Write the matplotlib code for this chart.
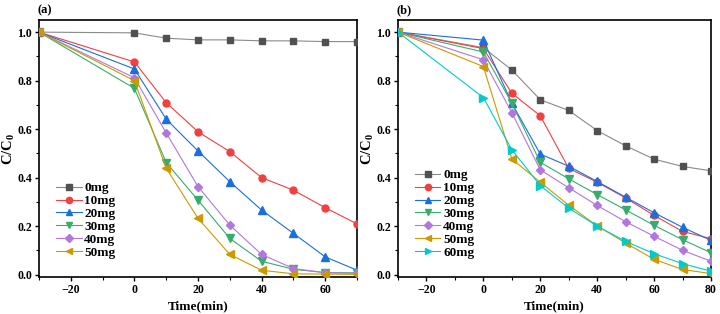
import matplotlib
matplotlib.use("Agg")
import matplotlib.pyplot as plt
from matplotlib.ticker import MultipleLocator

plt.rcParams['font.family'] = ['Liberation Serif', 'DejaVu Serif']
plt.rcParams['font.weight'] = 'bold'
plt.rcParams['mathtext.fontset'] = 'custom'
plt.rcParams['mathtext.rm'] = 'Liberation Serif:bold'
plt.rcParams['mathtext.it'] = 'Liberation Serif:bold'

# panel (a)
time_a = [-30, 0, 10, 20, 30, 40, 50, 60, 70]
labels_a = ["0mg", "10mg", "20mg", "30mg", "40mg", "50mg"]
a_0mg = [1.0, 0.997, 0.975, 0.968, 0.968, 0.964, 0.964, 0.961, 0.961]
a_10mg = [1.0, 0.877, 0.709, 0.589, 0.507, 0.400, 0.348, 0.276, 0.209]
a_20mg = [1.0, 0.848, 0.641, 0.510, 0.383, 0.266, 0.170, 0.073, 0.018]
a_30mg = [1.0, 0.768, 0.462, 0.307, 0.149, 0.055, 0.022, 0.008, 0.007]
a_40mg = [1.0, 0.812, 0.584, 0.363, 0.204, 0.083, 0.025, 0.008, 0.005]
a_50mg = [1.0, 0.800, 0.439, 0.232, 0.083, 0.018, 0.003, 0.002, 0.001]

# panel (b)
time_b = [-30, 0, 10, 20, 30, 40, 50, 60, 70, 80]
labels_b = ["0mg", "10mg", "20mg", "30mg", "40mg", "50mg", "60mg"]
b_0mg = [1.0, 0.936, 0.844, 0.721, 0.677, 0.594, 0.531, 0.476, 0.446, 0.428]
b_10mg = [1.0, 0.932, 0.748, 0.655, 0.438, 0.381, 0.316, 0.244, 0.178, 0.148]
b_20mg = [1.0, 0.967, 0.707, 0.497, 0.447, 0.384, 0.319, 0.255, 0.195, 0.141]
b_30mg = [1.0, 0.918, 0.707, 0.463, 0.395, 0.330, 0.267, 0.203, 0.144, 0.090]
b_40mg = [1.0, 0.886, 0.668, 0.432, 0.358, 0.285, 0.218, 0.158, 0.100, 0.055]
b_50mg = [1.0, 0.858, 0.477, 0.381, 0.286, 0.201, 0.130, 0.063, 0.021, 0.004]
b_60mg = [1.0, 0.730, 0.515, 0.367, 0.274, 0.200, 0.137, 0.086, 0.045, 0.014]

colors = ['#515151', '#F14040', '#1A6FDF', '#37AD6B', '#B177DE', '#CC9900', '#00CBCC']
line_colors = ['#8a8a8a', '#F14040', '#1A6FDF', '#37AD6B', '#B177DE', '#CC9900', '#00CBCC']
markers = ['s', 'o', '^', 'v', 'D', '<', '>']
msizes = [4.5, 5, 5.5, 5.5, 4.5, 5.5, 5.5]

fig = plt.figure(figsize=(7.2, 3.14), dpi=100)
ax1 = fig.add_axes([39 / 720, 37 / 314, 318 / 720, 257 / 314])
ax2 = fig.add_axes([398 / 720, 37 / 314, 313 / 720, 257 / 314])


def draw(ax, t, series, labels, xmax, tag):
    for i, (y, lab) in enumerate(zip(series, labels)):
        ax.plot(t, y, color=line_colors[i], lw=0.8, marker=markers[i],
                markersize=msizes[i], markerfacecolor=colors[i],
                markeredgecolor=colors[i], label=lab, zorder=3)
    ax.set_xlim(-30, xmax)
    ax.set_ylim(-0.01, 1.05)
    ax.xaxis.set_major_locator(MultipleLocator(20))
    ax.xaxis.set_minor_locator(MultipleLocator(10))
    ax.yaxis.set_major_locator(MultipleLocator(0.2))
    ax.yaxis.set_minor_locator(MultipleLocator(0.1))
    ax.yaxis.set_major_formatter(plt.FormatStrFormatter('%.1f'))
    ax.tick_params(axis='both', which='major', labelsize=8.5, length=3, width=1, direction='out', pad=2)
    ax.tick_params(axis='both', which='minor', length=2, width=0.8, direction='out')
    for lab in ax.get_xticklabels() + ax.get_yticklabels():
        lab.set_fontweight('bold')
    for sp in ax.spines.values():
        sp.set_linewidth(1.2)
    ax.set_xlabel('Time(min)', fontsize=9.5, fontweight='bold', labelpad=3)
    ax.set_ylabel('C/C$_0$', fontsize=10.5, fontweight='bold')
    ax.yaxis.set_label_coords(-22 / (ax.get_position().width * 720), 0.5)
    ax.text(-0.005, 1.015, tag, transform=ax.transAxes, fontsize=9, fontweight='bold',
            ha='left', va='bottom')
    ax.legend(loc='lower left', bbox_to_anchor=(0.03, 0.04), frameon=False,
              prop={'size': 9.5, 'weight': 'bold'}, handlelength=1.9,
              handletextpad=0.2, labelspacing=0.05, borderaxespad=0.2,
              markerscale=0.9)


draw(ax1, time_a, [a_0mg, a_10mg, a_20mg, a_30mg, a_40mg, a_50mg], labels_a, 70, '(a)')
draw(ax2, time_b, [b_0mg, b_10mg, b_20mg, b_30mg, b_40mg, b_50mg, b_60mg], labels_b, 80, '(b)')

fig.savefig('out.png', dpi=100)
